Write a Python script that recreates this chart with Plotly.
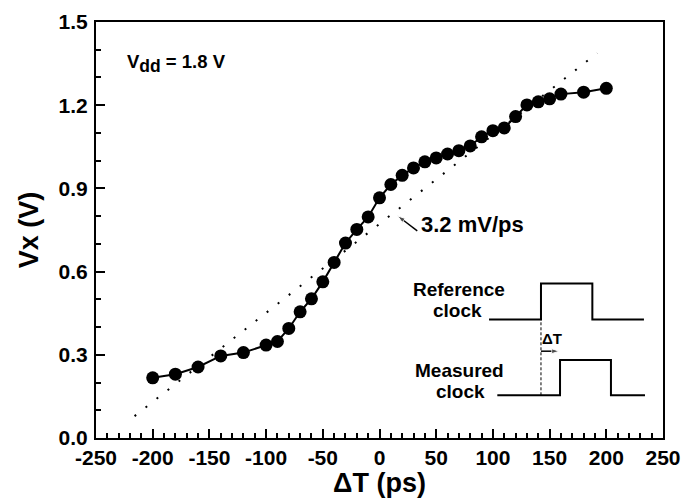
import plotly.graph_objects as go

# ---- data ----
delta_t = [-200, -180, -160, -140, -120, -100, -90, -80, -70, -60, -50, -40, -30, -20, -10,
           0, 10, 20, 30, 40, 50, 60, 70, 80, 90, 100, 110, 120, 130, 140, 150, 160, 180, 200]
vx = [0.217, 0.230, 0.256, 0.296, 0.308, 0.335, 0.348, 0.395, 0.455, 0.502, 0.563, 0.633,
      0.703, 0.752, 0.797, 0.866, 0.914, 0.947, 0.974, 0.996, 1.010, 1.024, 1.036, 1.053,
      1.086, 1.108, 1.118, 1.159, 1.201, 1.212, 1.223, 1.240, 1.247, 1.261]

# linear fit line (3.2 mV/ps)
fit_x = [-216, 192]
fit_y = [0.079, 1.388]

x_ticks = [-250, -200, -150, -100, -50, 0, 50, 100, 150, 200, 250]
x_ticktext = ["-250", "-200", "-150", "-100", "-50", "0", "50", "100", "150", "200", "250"]
y_ticks = [0.0, 0.3, 0.6, 0.9, 1.2, 1.5]
y_ticktext = ["0.0", "0.3", "0.6", "0.9", "1.2", "1.5"]

# inset schematic (in data units)
ref_clk_x = [96.6, 142.4, 142.4, 187.7, 187.7, 233.2]
ref_clk_y = [0.427, 0.427, 0.557, 0.557, 0.427, 0.427]
meas_clk_x = [103.9, 159.2, 159.2, 204.1, 204.1, 234.1]
meas_clk_y = [0.154, 0.154, 0.281, 0.281, 0.154, 0.154]
dash_x = [142.4, 142.4]
dash_y = [0.154, 0.427]
dt_arrow_x = [142.4, 158.5]
dt_arrow_y = [0.313, 0.313]
slope_arrow_x = [33.3, 16.0]
slope_arrow_y = [0.747, 0.801]

FONT = "Arial, Liberation Sans, sans-serif"

fig = go.Figure()

fig.add_trace(go.Scatter(x=fit_x, y=fit_y, mode="lines",
                         line=dict(color="black", width=2, dash="2px,12px"),
                         showlegend=False, hoverinfo="skip"))
fig.add_trace(go.Scatter(x=delta_t, y=vx, mode="lines+markers",
                         line=dict(color="black", width=2),
                         marker=dict(color="black", size=13),
                         showlegend=False))
fig.add_trace(go.Scatter(x=ref_clk_x, y=ref_clk_y, mode="lines",
                         line=dict(color="black", width=2), showlegend=False, hoverinfo="skip"))
fig.add_trace(go.Scatter(x=meas_clk_x, y=meas_clk_y, mode="lines",
                         line=dict(color="black", width=2), showlegend=False, hoverinfo="skip"))
fig.add_trace(go.Scatter(x=dash_x, y=dash_y, mode="lines",
                         line=dict(color="black", width=1, dash="3px,2px"),
                         showlegend=False, hoverinfo="skip"))
for ax_, ay_ in [(dt_arrow_x, dt_arrow_y), (slope_arrow_x, slope_arrow_y)]:
    fig.add_trace(go.Scatter(x=ax_, y=ay_, mode="lines+markers",
                             line=dict(color="black", width=1.5),
                             marker=dict(symbol="arrow", angleref="previous", size=[0, 8],
                                         color="black"),
                             showlegend=False, hoverinfo="skip"))

bold = dict(family=FONT, color="black", weight="bold")


def label(x, y, text, size, xanchor="center"):
    return dict(x=x, y=y, xref="x", yref="y", xanchor=xanchor, yanchor="middle",
                text=text, showarrow=False, font=dict(**bold, size=size))


annotations = [
    label(-224.4, 1.352, "V<sub><span style='font-size:17.5px'>dd</span></sub> = 1.8 V", 18.5,
          xanchor="left"),
    label(34.5, 0.771, "3.2 mV/ps", 22, xanchor="left"),
    label(69.7, 0.537, "Reference", 19),
    label(69.0, 0.461, "clock", 19),
    label(70.9, 0.243, "Measured", 19),
    label(71.2, 0.167, "clock", 19),
    label(152.1, 0.358, "ΔT", 15),
]

fig.update_layout(
    width=687, height=490,
    margin=dict(l=88, r=32, t=14, b=60),
    paper_bgcolor="white", plot_bgcolor="white",
    annotations=annotations,
    showlegend=False,
)

fig.update_xaxes(
    range=[-250, 250], tickvals=x_ticks, ticktext=x_ticktext,
    ticks="inside", ticklen=9, tickwidth=2, tickcolor="black",
    minor=dict(dtick=10, ticks="inside", ticklen=5, tickwidth=2, tickcolor="black"),
    showline=True, linecolor="black", linewidth=2, mirror=True,
    showgrid=False, zeroline=False, automargin=False,
    tickfont=dict(**bold, size=21),
    title=dict(text="ΔT (ps)", font=dict(**bold, size=27), standoff=0),
)
fig.update_yaxes(
    range=[0, 1.5], tickvals=y_ticks, ticktext=y_ticktext,
    ticks="inside", ticklen=9, tickwidth=2, tickcolor="black",
    minor=dict(dtick=0.1, ticks="inside", ticklen=5, tickwidth=2, tickcolor="black"),
    showline=True, linecolor="black", linewidth=2, mirror=True,
    showgrid=False, zeroline=False, automargin=False, ticklabelstandoff=2,
    tickfont=dict(**bold, size=21),
    title=dict(text="Vx (V)", font=dict(**bold, size=27), standoff=12),
)

fig.write_html("out.html")
